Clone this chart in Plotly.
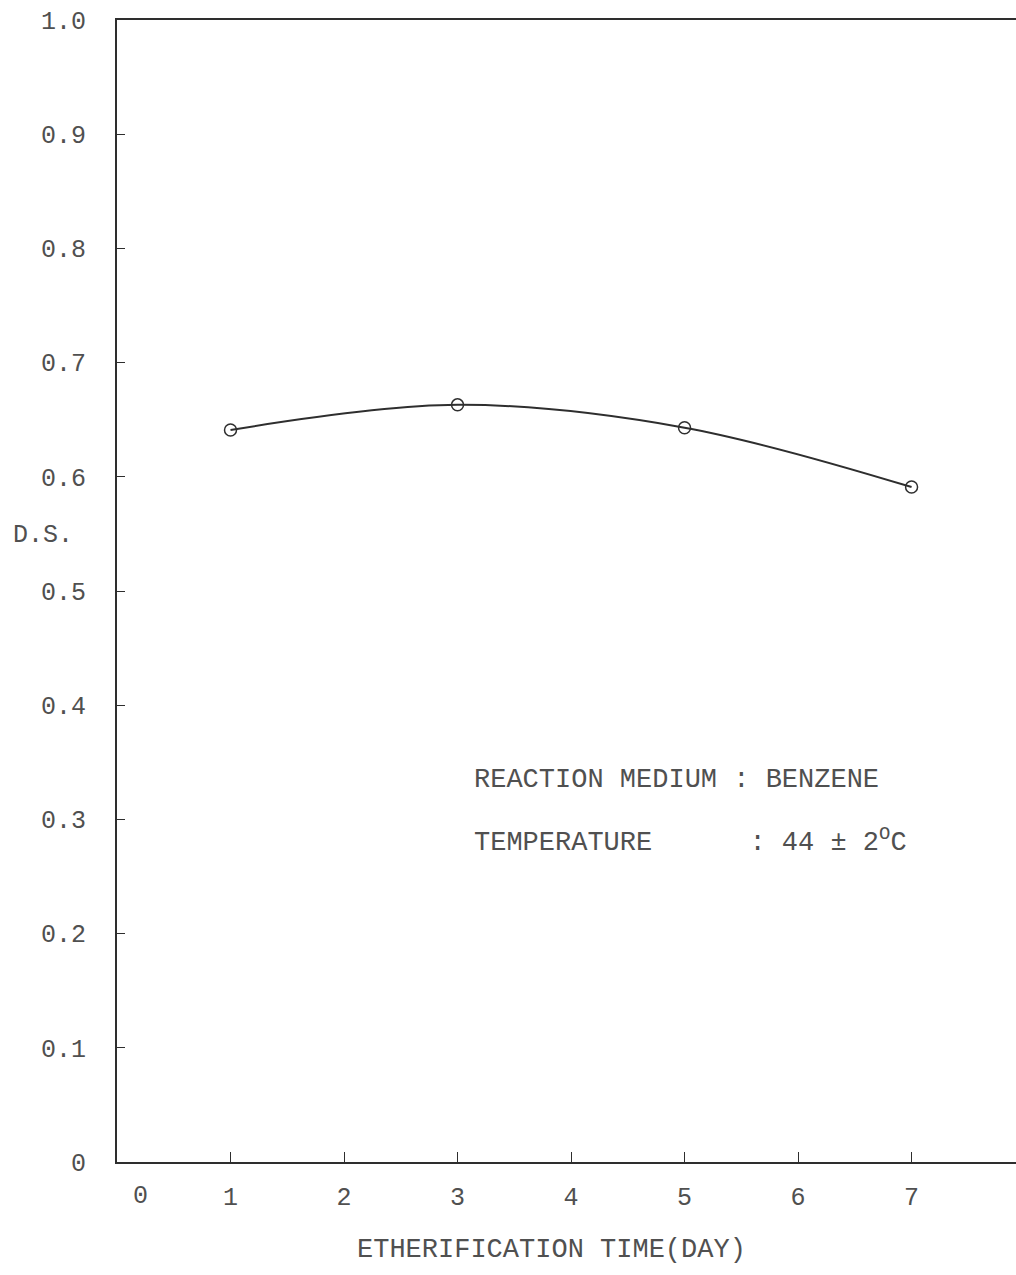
import plotly.graph_objects as go

days = [1, 3, 5, 7]
ds = [0.641, 0.663, 0.643, 0.591]

x_ticks = [1, 2, 3, 4, 5, 6, 7]
x_ticktext = ["1", "2", "3", "4", "5", "6", "7"]
y_ticks = [0, 0.1, 0.2, 0.3, 0.4, 0.5, 0.6, 0.7, 0.8, 0.9, 1.0]
y_ticktext = ["0", "0.1", "0.2", "0.3", "0.4", "0.5", "0.6", "0.7", "0.8", "0.9", "1.0"]

FONT = "Liberation Mono, Courier New, monospace"
INK = "#2e2e2e"
TXT = "#505050"
FS = 25
FA = 27

L, T, W, H = 117, 20, 899, 1142


def px(xp):
    return (xp - L) / W


def py(yp):
    return (T + H - yp) / H


fig = go.Figure()
fig.add_trace(go.Scatter(
    x=days, y=ds, mode="lines+markers",
    line=dict(color=INK, width=2, shape="spline", smoothing=1.0),
    marker=dict(symbol="circle-open", size=12, color=INK, line=dict(width=1.5, color=INK)),
    showlegend=False,
))

fig.update_layout(
    width=1016, height=1275,
    margin=dict(l=L, r=0, t=T, b=1275 - T - H),
    paper_bgcolor="white", plot_bgcolor="white",
    font=dict(family=FONT, size=FS, color=TXT),
    xaxis=dict(
        range=[0, 7.92], tickmode="array", tickvals=x_ticks, ticktext=x_ticktext,
        ticks="inside", ticklen=10, tickwidth=1.2, tickcolor=INK,
        showline=True, linecolor=INK, linewidth=1.8, mirror=True,
        showgrid=False, zeroline=False, ticklabelstandoff=11,
        tickfont=dict(family=FONT, size=FS, color=TXT),
    ),
    yaxis=dict(
        range=[0, 1.0], tickmode="array", tickvals=y_ticks, ticktext=y_ticktext,
        ticks="inside", ticklen=8, tickwidth=1.2, tickcolor=INK,
        showline=True, linecolor=INK, linewidth=1.8, mirror=False,
        showgrid=False, zeroline=False, ticklabelstandoff=24,
        tickfont=dict(family=FONT, size=FS, color=TXT),
    ),
)

fig.add_annotation(x=px(140), y=py(1196), xref="paper", yref="paper", text="0", showarrow=False,
                   xanchor="center", yanchor="middle", font=dict(family=FONT, size=FS, color=TXT))
fig.add_annotation(x=px(43), y=py(535), xref="paper", yref="paper", text="D.S.", showarrow=False,
                   xanchor="center", yanchor="middle", font=dict(family=FONT, size=FS, color=TXT))
fig.add_annotation(x=px(472), y=py(780), xref="paper", yref="paper",
                   text="REACTION MEDIUM : BENZENE", showarrow=False, xanchor="left", yanchor="middle",
                   font=dict(family=FONT, size=FA, color=TXT))
fig.add_annotation(x=px(472), y=py(840), xref="paper", yref="paper",
                   text="TEMPERATURE&nbsp;&nbsp;&nbsp;&nbsp;&nbsp;&nbsp;: 44 ± 2<sup>O</sup>C", showarrow=False,
                   xanchor="left", yanchor="middle",
                   font=dict(family=FONT, size=FA, color=TXT))
fig.add_annotation(x=px(551), y=py(1250), xref="paper", yref="paper",
                   text="ETHERIFICATION TIME(DAY)", showarrow=False, xanchor="center", yanchor="middle",
                   font=dict(family=FONT, size=FA, color=TXT))

fig.write_html("out.html")
